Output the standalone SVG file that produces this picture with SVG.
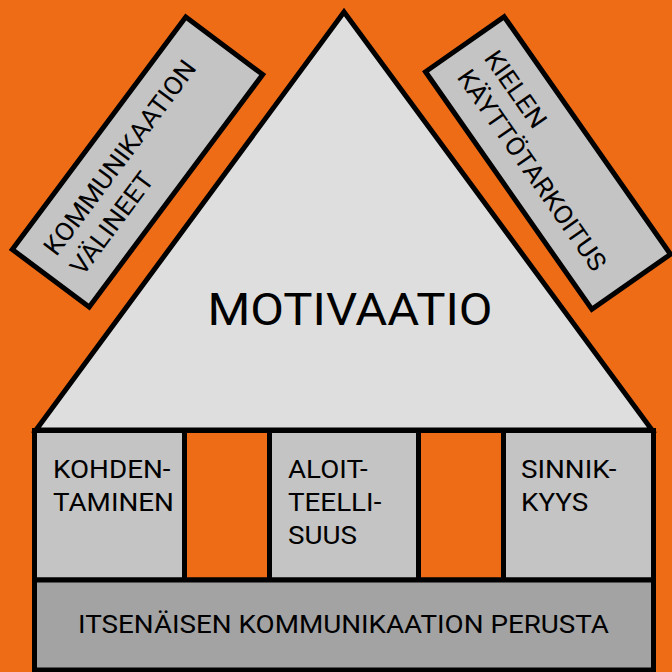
<svg xmlns="http://www.w3.org/2000/svg" width="672" height="672" viewBox="0 0 672 672">
<style>
.bg{fill:#EE6C16}
.frame{stroke:#000;stroke-width:5;stroke-linejoin:miter}
.tri{fill:#DEDEDE}
.box{fill:#C4C4C4}
.gap{fill:#EE6C16}
.base{fill:#A3A3A3}
.t{font-family:Roboto,"Liberation Sans",sans-serif;font-size:25.5px;fill:#000}
.big{font-family:Roboto,"Liberation Sans",sans-serif;font-size:45px;fill:#000}
</style>
<rect class="bg" x="0" y="0" width="672" height="672"/>
<g id="motivaatio">
<polygon class="tri frame" points="344,12 36,430 652,430"/>
<text class="big" text-anchor="middle" transform="translate(350,325) scale(1.09,1)" x="0" y="0">MOTIVAATIO</text>
</g>
<g id="kommunikaation-valineet" transform="translate(137.5,162) rotate(-53.25)">
<rect class="box frame" x="-145" y="-48" width="290" height="96"/>
<text class="t" transform="scale(1.05,1)"><tspan x="-119" y="-8">KOMMUNIKAATION</tspan><tspan x="-119" y="25">VÄLINEET</tspan></text>
</g>
<g id="kielen-kayttotarkoitus" transform="translate(548,163) rotate(55)">
<rect class="box frame" x="-145" y="-48" width="290" height="96"/>
<text class="t" transform="scale(1.05,1)"><tspan x="-117" y="-7">KIELEN</tspan><tspan x="-117" y="26">KÄYTTÖTARKOITUS</tspan></text>
</g>
<g id="kohdentaminen">
<rect class="box frame" x="34.5" y="430.5" width="150" height="149.5"/>
<text class="t" transform="translate(53,0) scale(1.09,1)"><tspan x="0" y="478">KOHDEN-</tspan><tspan x="0" y="511.5">TAMINEN</tspan></text>
</g>
<g id="gap-1">
<rect class="gap frame" x="184.5" y="430.5" width="85" height="149.5"/>
</g>
<g id="aloitteellisuus">
<rect class="box frame" x="269.5" y="430.5" width="149" height="149.5"/>
<text class="t" transform="translate(288,0) scale(1.09,1)"><tspan x="0" y="478">ALOIT-</tspan><tspan x="0" y="511">TEELLI-</tspan><tspan x="0" y="544">SUUS</tspan></text>
</g>
<g id="gap-2">
<rect class="gap frame" x="418.5" y="430.5" width="85" height="149.5"/>
</g>
<g id="sinnikkyys">
<rect class="box frame" x="503.5" y="430.5" width="150" height="149.5"/>
<text class="t" transform="translate(521,0) scale(1.09,1)"><tspan x="0" y="478">SINNIK-</tspan><tspan x="0" y="511">KYYS</tspan></text>
</g>
<g id="perusta">
<rect class="base frame" x="34.5" y="580" width="619" height="90"/>
<text class="t" text-anchor="middle" transform="translate(343.5,633) scale(1.09,1)" x="0" y="0">ITSENÄISEN KOMMUNIKAATION PERUSTA</text>
</g>
<g id="connectors"/>
</svg>
